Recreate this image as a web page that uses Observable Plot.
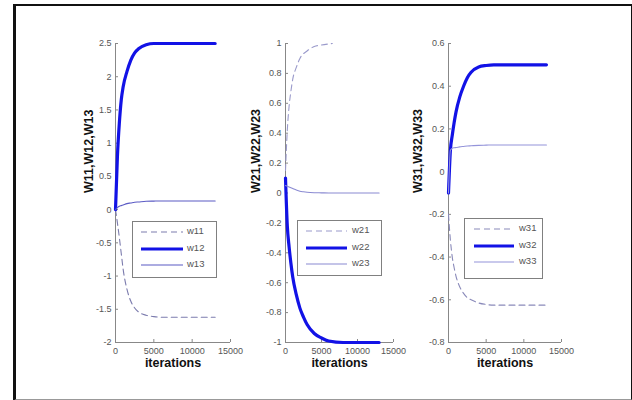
<!DOCTYPE html>
<html>
<head>
<meta charset="utf-8">
<script src="https://cdn.jsdelivr.net/npm/d3@7"></script>
<script src="https://cdn.jsdelivr.net/npm/@observablehq/plot@0.6"></script>
<style>
  html, body { margin: 0; padding: 0; background: #fff; }
  #wrap { position: relative; width: 632px; height: 400px; overflow: hidden; font-family: "Liberation Sans", Arial, sans-serif; }
  #frame { position: absolute; left: 13px; top: 4px; width: 615px; height: 393px;
           border-top: 2px solid #111; border-left: 3px solid #111; border-right: 2px solid #111; border-bottom: 2px solid #999; }
  .panel { position: absolute; top: 0; }
  .panel svg { background: transparent !important; overflow: visible; }
  .legend { position: absolute; border: 1px solid #808080; background: #fff; }
  .legend .row { position: absolute; left: 0; height: 12px; }
  .legend .row svg { position: absolute; left: 0; top: 0; }
  .legend .row span { position: absolute; top: -1px; font-size: 9.5px; color: #555; }
</style>
</head>
<body>
<div id="wrap"><div id="frame"></div></div>
<script>
// ---- data ----
const iterA = [0, 250, 500, 750, 1000, 1500, 2000, 2500, 3000, 4000, 5000, 6000, 8000, 13000];

// panel 1
const w11 = [0, -0.2, -0.42, -0.66, -0.9, -1.2, -1.38, -1.48, -1.54, -1.59, -1.61, -1.62, -1.62, -1.62];
const w12 = [0, 0.8, 1.3, 1.65, 1.85, 2.08, 2.25, 2.36, 2.42, 2.48, 2.5, 2.5, 2.5, 2.5];
const w13 = [0, 0.03, 0.05, 0.06, 0.07, 0.09, 0.1, 0.11, 0.115, 0.125, 0.128, 0.13, 0.13, 0.13];

// panel 2
const iterW21 = [0, 250, 500, 750, 1000, 1500, 2000, 3000, 4000, 5000, 6500];
const w21 = [0.15, 0.42, 0.58, 0.68, 0.76, 0.84, 0.9, 0.95, 0.98, 0.99, 1.0];
const w22 = [0.1, -0.22, -0.36, -0.47, -0.56, -0.68, -0.77, -0.83, -0.88, -0.94, -0.97, -0.99, -1.0, -1.0];
const w23 = [0.05, 0.045, 0.04, 0.035, 0.03, 0.02, 0.012, 0.008, 0.005, 0.002, 0.001, 0, 0, 0];

// panel 3
const w31 = [-0.2, -0.32, -0.4, -0.45, -0.49, -0.54, -0.57, -0.59, -0.6, -0.615, -0.622, -0.625, -0.625, -0.625];
const w32 = [-0.1, 0.1, 0.17, 0.23, 0.28, 0.35, 0.4, 0.44, 0.465, 0.49, 0.497, 0.5, 0.5, 0.5];
const w33 = [-0.1, 0.1, 0.11, 0.112, 0.113, 0.116, 0.118, 0.12, 0.121, 0.123, 0.124, 0.125, 0.125, 0.125];

// axes
const xTicks = [0, 5000, 10000, 15000];
const yTicks1 = [-2, -1.5, -1, -0.5, 0, 0.5, 1, 1.5, 2, 2.5];
const yTicks2 = [-1, -0.8, -0.6, -0.4, -0.2, 0, 0.2, 0.4, 0.6, 0.8, 1];
const yTicks3 = [-0.8, -0.6, -0.4, -0.2, 0, 0.2, 0.4, 0.6];
const yLabels = ["W11,W12,W13", "W21,W22,W23", "W31,W32,W33"];
const xLabel = "iterations";
const names1 = ["w11", "w12", "w13"];
const names2 = ["w21", "w22", "w23"];
const names3 = ["w31", "w32", "w33"];

// ---- build ----
const fmt = d => String(+(+d).toFixed(2));
const thick = "#1212e6";
const DASH = "6,4";

function toRows(xs, ys) { return xs.map((x, i) => ({x, y: ys[i]})); }

const panels = [
  {left: 55, width: 190, mL: 60, mR: 15, yDomain: [-2, 2.5], yTicks: yTicks1, label: yLabels[0], labelDx: 27,
   series: [
     {name: names1[0], data: toRows(iterA, w11), stroke: "#7c7cae", sw: 1.1, dash: DASH},
     {name: names1[1], data: toRows(iterA, w12), stroke: thick, sw: 3.2, dash: null},
     {name: names1[2], data: toRows(iterA, w13), stroke: "#5a5ac4", sw: 1.1, dash: null}
   ],
   legend: {left: 132, top: 221, width: 83, height: 55, lineX: 8, lineW: 42, textX: 54}},
  {left: 230, width: 180, mL: 55, mR: 17, yDomain: [-1, 1], yTicks: yTicks2, label: yLabels[1], labelDx: 30,
   series: [
     {name: names2[0], data: toRows(iterW21, w21), stroke: "#9a9acb", sw: 1.1, dash: DASH},
     {name: names2[1], data: toRows(iterA, w22), stroke: thick, sw: 3.2, dash: null},
     {name: names2[2], data: toRows(iterA, w23), stroke: "#8a8ad2", sw: 1.1, dash: null}
   ],
   legend: {left: 297, top: 220, width: 83, height: 54, lineX: 8, lineW: 41, textX: 54}},
  {left: 395, width: 180, mL: 53, mR: 14, yDomain: [-0.8, 0.6], yTicks: yTicks3, label: yLabels[2], labelDx: 31,
   series: [
     {name: names3[0], data: toRows(iterA, w31), stroke: "#8a8aba", sw: 1.1, dash: DASH},
     {name: names3[1], data: toRows(iterA, w32), stroke: thick, sw: 3.2, dash: null},
     {name: names3[2], data: toRows(iterA, w33), stroke: "#9494da", sw: 1.1, dash: null}
   ],
   legend: {left: 464, top: 218, width: 77, height: 59, lineX: 9, lineW: 40, textX: 54}}
];

const wrap = document.getElementById("wrap");
const mT = 43, mB = 58, H = 400;

panels.forEach(p => {
  const plotW = p.width - p.mL - p.mR;
  const plotH = H - mT - mB;
  const marks = [
    Plot.ruleX([0], {stroke: "#888", strokeWidth: 1}),
    Plot.ruleY([p.yDomain[0]], {stroke: "#888", strokeWidth: 1}),
    // inward tick marks
    Plot.tickY(p.yTicks, {y: d => d, stroke: "#888", strokeWidth: 1, insetRight: plotW - 3}),
    Plot.tickX(xTicks, {x: d => d, stroke: "#888", strokeWidth: 1, insetTop: plotH - 3}),
    Plot.axisY(p.yTicks, {anchor: "left", tickSize: 0, tickPadding: 4, tickFormat: fmt,
      fill: "#555", fontSize: 9, label: null}),
    Plot.axisX(xTicks, {anchor: "bottom", tickSize: 0, tickPadding: 5, tickFormat: d => String(d),
      fill: "#555", fontSize: 9, label: null}),
    Plot.text([p.label], {frameAnchor: "left", dx: -p.labelDx, rotate: -90, fontSize: 12.5, fontWeight: "bold", fill: "#111", text: d => d}),
    Plot.text([xLabel], {frameAnchor: "bottom", dy: 16, lineAnchor: "top", fontSize: 12.5, fontWeight: "bold", fill: "#111", text: d => d}),
  ];
  p.series.forEach(s => {
    marks.push(Plot.line(s.data, {x: "x", y: "y", stroke: s.stroke, strokeWidth: s.sw, strokeDasharray: s.dash, curve: "monotone-x"}));
  });
  const chart = Plot.plot({
    width: p.width, height: H,
    marginLeft: p.mL, marginRight: p.mR, marginTop: mT, marginBottom: mB,
    x: {domain: [0, 15000], axis: null},
    y: {domain: p.yDomain, axis: null},
    style: {background: "transparent", fontFamily: "Liberation Sans, Arial, sans-serif"},
    marks
  });
  const div = document.createElement("div");
  div.className = "panel";
  div.style.left = p.left + "px";
  div.appendChild(chart);
  wrap.appendChild(div);

  // legend box
  const lg = document.createElement("div");
  lg.className = "legend";
  const L = p.legend;
  Object.assign(lg.style, {left: L.left + "px", top: L.top + "px", width: L.width + "px", height: L.height + "px"});
  p.series.forEach((s, i) => {
    const row = document.createElement("div");
    row.className = "row";
    row.style.top = (4 + i * 16.5) + "px";
    row.style.width = L.width + "px";
    const ns = "http://www.w3.org/2000/svg";
    const svg = document.createElementNS(ns, "svg");
    svg.setAttribute("width", L.width);
    svg.setAttribute("height", 12);
    const ln = document.createElementNS(ns, "line");
    ln.setAttribute("x1", L.lineX); ln.setAttribute("x2", L.lineX + L.lineW);
    ln.setAttribute("y1", 6); ln.setAttribute("y2", 6);
    ln.setAttribute("stroke", s.stroke);
    ln.setAttribute("stroke-width", s.sw);
    if (s.dash) ln.setAttribute("stroke-dasharray", s.dash);
    svg.appendChild(ln);
    row.appendChild(svg);
    const t = document.createElement("span");
    t.textContent = s.name;
    t.style.left = L.textX + "px";
    row.appendChild(t);
    lg.appendChild(row);
  });
  wrap.appendChild(lg);
});
</script>
</body>
</html>
